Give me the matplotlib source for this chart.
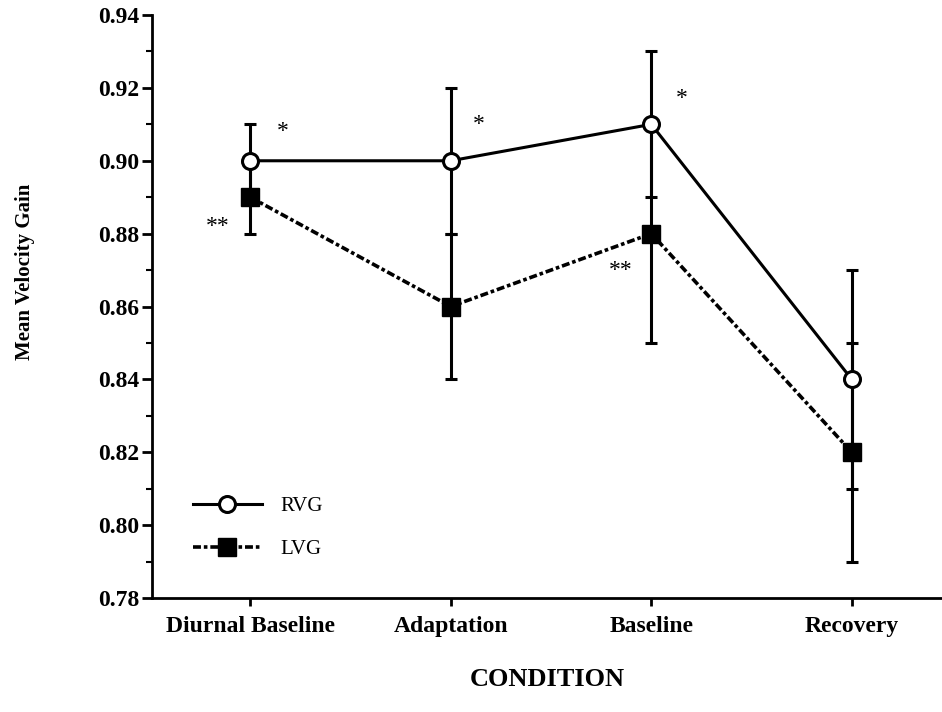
import numpy as np
import matplotlib.pyplot as plt
from matplotlib.ticker import MultipleLocator, FormatStrFormatter

plt.rcParams['font.family'] = ['Liberation Serif', 'DejaVu Serif']

# Condiciones y valores medios de ganancia
conditions = ['Diurnal Baseline', 'Adaptation', 'Baseline', 'Recovery']
rvg_mean = [0.90, 0.90, 0.91, 0.84]
rvg_err = [0.01, 0.02, 0.02, 0.03]
lvg_mean = [0.89, 0.86, 0.88, 0.82]
lvg_err = [0.01, 0.02, 0.03, 0.03]

# Marcas de significación (x, y, texto)
sig_marks = [(1.16, 0.908, '*'), (0.84, 0.882, '**'), (2.14, 0.910, '*'),
             (3.15, 0.917, '*'), (2.85, 0.870, '**')]

x = np.arange(1, len(conditions) + 1)

fig = plt.figure(figsize=(9.42, 7.12), dpi=100)
ax = fig.add_axes([0.1614, 0.1601, 0.8386, 0.8188])

ax.errorbar(x, rvg_mean, yerr=rvg_err, fmt='none', ecolor='black',
            elinewidth=2.2, capsize=4.5, capthick=2.2, zorder=2)
ax.errorbar(x, lvg_mean, yerr=lvg_err, fmt='none', ecolor='black',
            elinewidth=2.2, capsize=4.5, capthick=2.2, zorder=2)

ax.plot(x, rvg_mean, color='black', lw=2.2, linestyle='-',
        marker='o', markersize=11.5, markerfacecolor='white',
        markeredgewidth=2.2, label='RVG', zorder=3)
ax.plot(x, lvg_mean, color='black', lw=2.6, linestyle=(0, (2.2, 0.8, 1, 0.8)),
        marker='s', markersize=12.5, markerfacecolor='black',
        label='LVG', zorder=3)

for sx, sy, s in sig_marks:
    ax.text(sx, sy, s, fontsize=17, ha='center', va='center')

ax.set_xlim(0.51, 4.45)
ax.set_ylim(0.78, 0.94)
ax.set_xticks(x)
ax.set_xticklabels(conditions, fontsize=17, fontweight='bold')
ax.yaxis.set_major_locator(MultipleLocator(0.02))
ax.yaxis.set_minor_locator(MultipleLocator(0.01))
ax.yaxis.set_major_formatter(FormatStrFormatter('%.2f'))
for lab in ax.get_yticklabels():
    lab.set_fontsize(17)
    lab.set_fontweight('bold')

ax.spines['top'].set_visible(False)
ax.spines['right'].set_visible(False)
ax.spines['left'].set_linewidth(2)
ax.spines['bottom'].set_linewidth(2)
ax.tick_params(axis='y', which='major', direction='out', length=7, width=2, pad=2)
ax.tick_params(axis='x', which='major', direction='out', length=6, width=2, pad=7)
ax.tick_params(axis='y', which='minor', direction='out', length=4, width=1.5)

ax.set_xlabel('CONDITION', fontsize=19, fontweight='bold', labelpad=22)
ax.set_ylabel('Mean Velocity Gain', fontsize=15, fontweight='bold')
ax.yaxis.set_label_coords(-0.148, 0.56)

ax.legend(loc='lower left', bbox_to_anchor=(0.028, 0.035), frameon=False,
          fontsize=15, handlelength=3.3, handletextpad=0.9, labelspacing=1.1)

fig.savefig('out.png', dpi=100)
